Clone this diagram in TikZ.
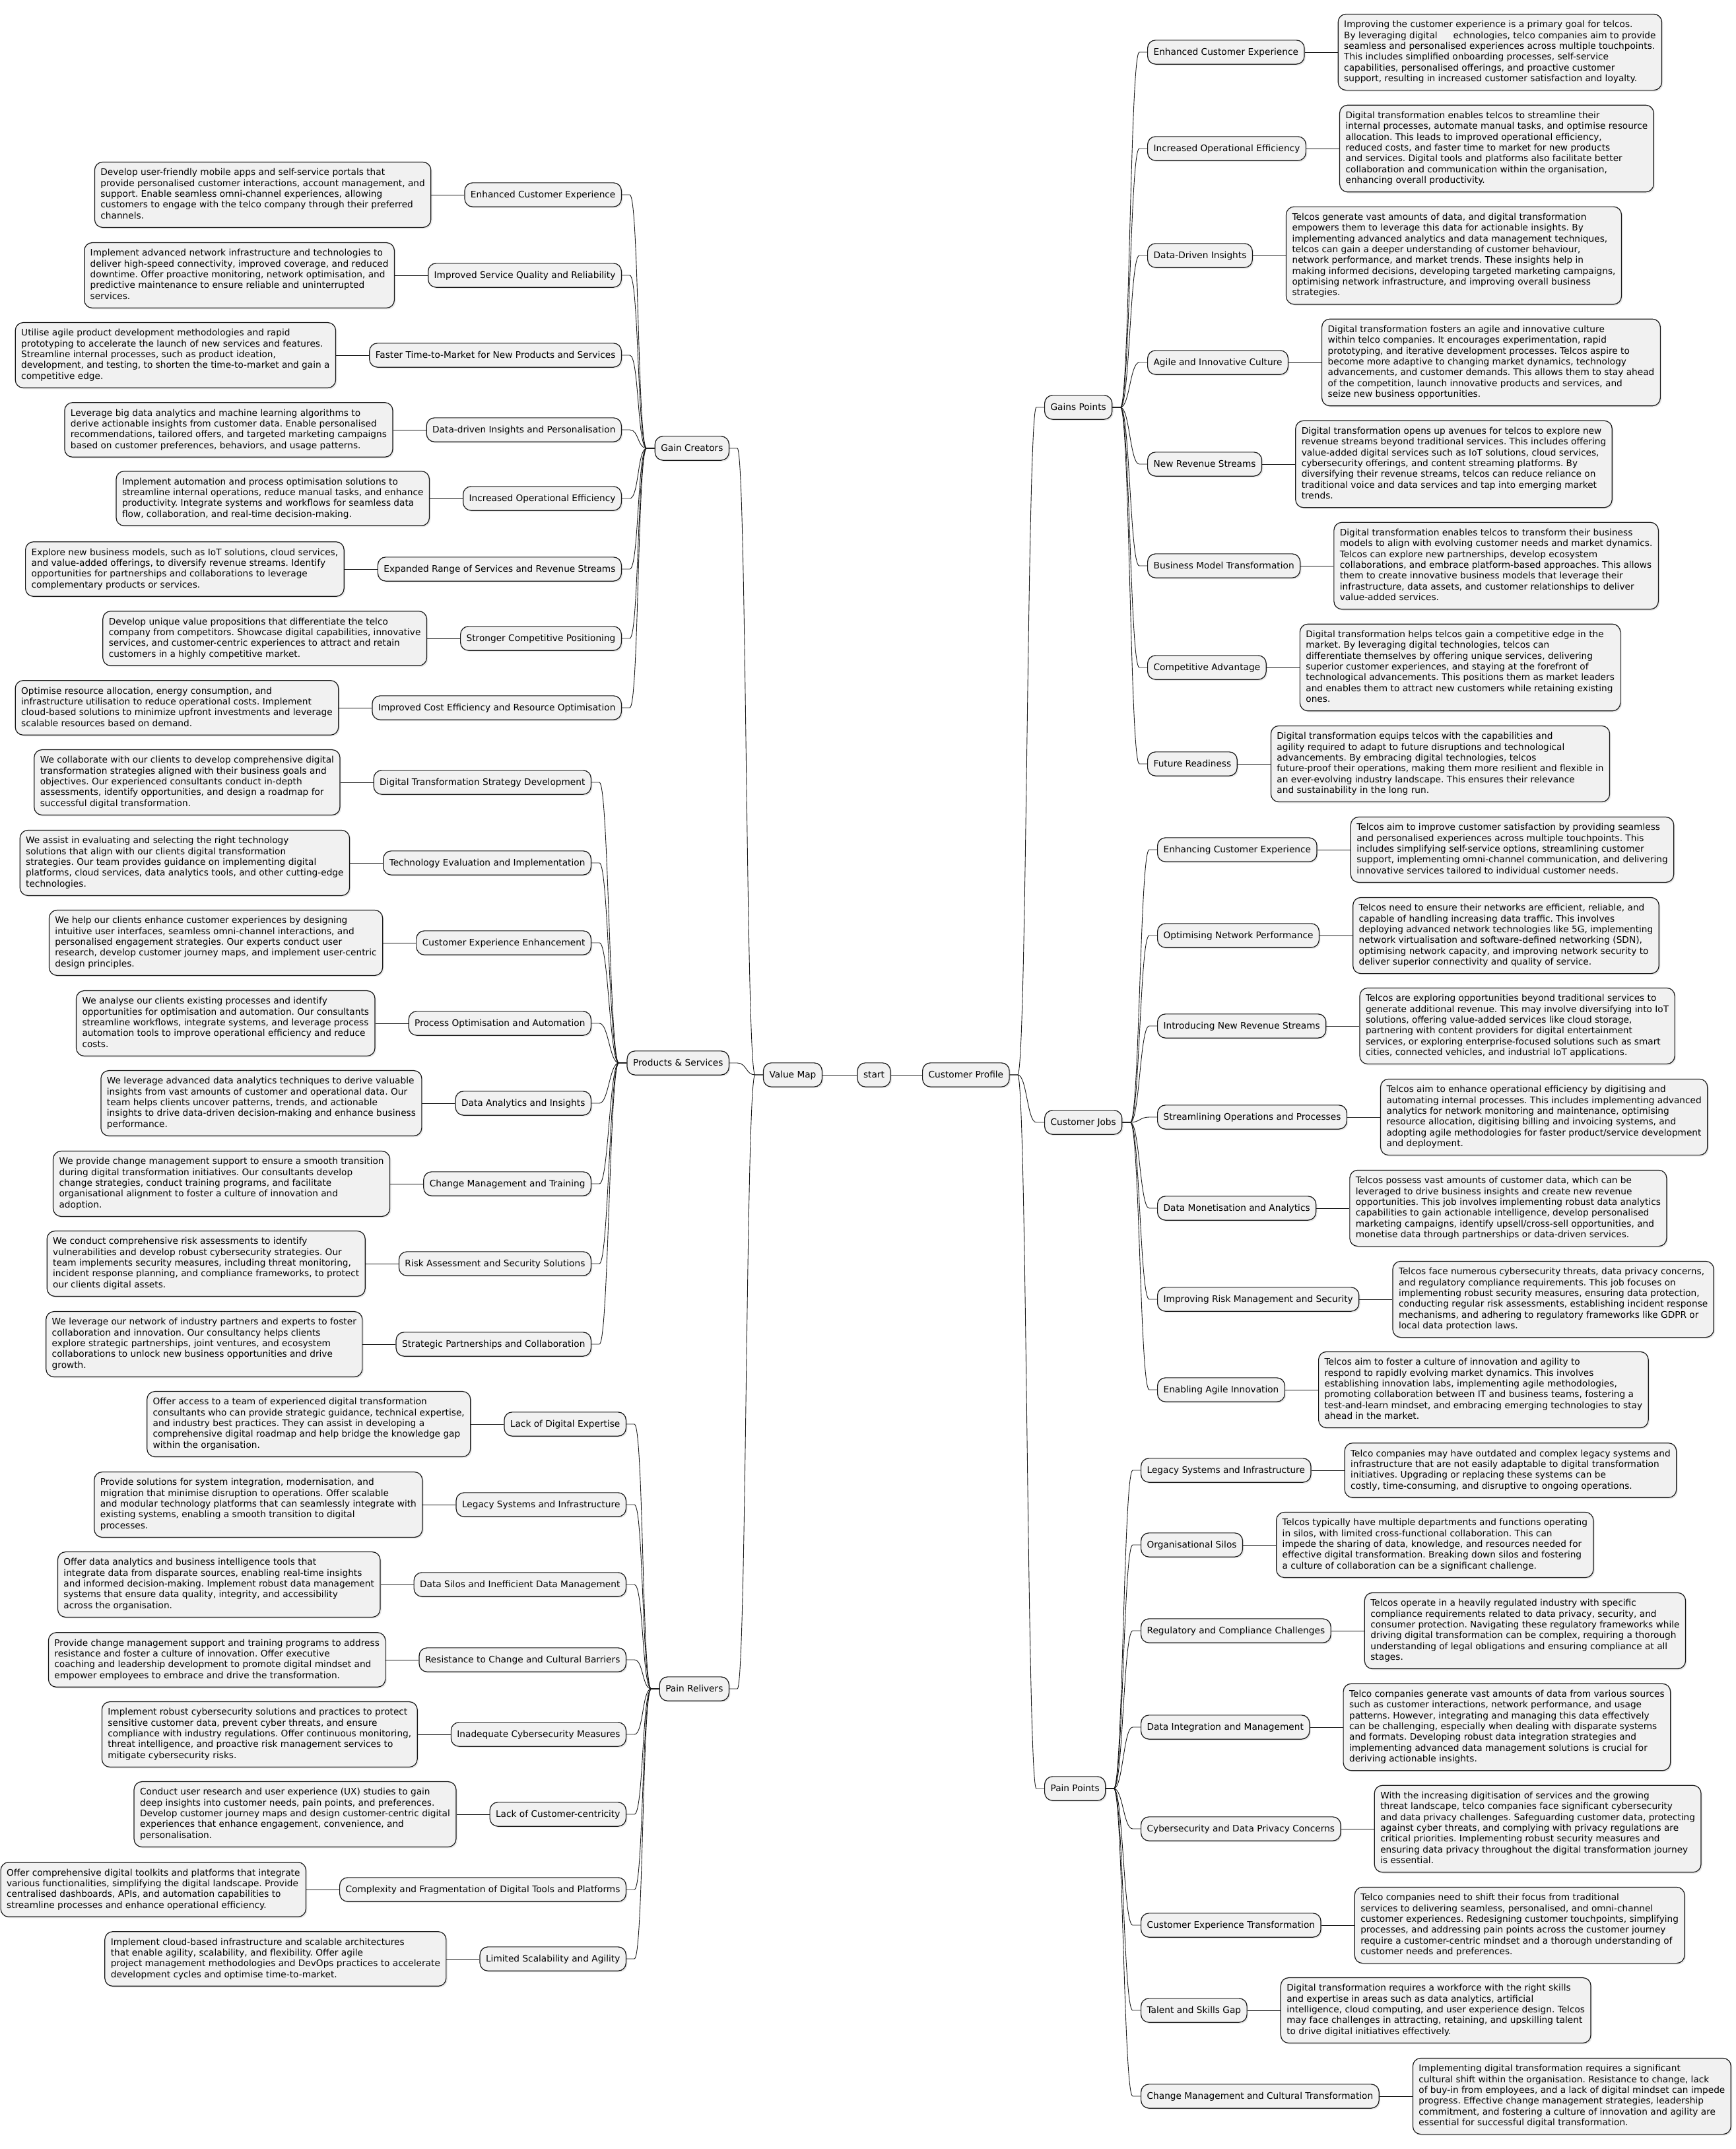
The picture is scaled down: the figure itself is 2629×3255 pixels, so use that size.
\documentclass[tikz,border=0pt]{standalone}
\usepackage{fontspec}
\setmainfont{DejaVu Sans}
\usepackage{tikz}
\usetikzlibrary{shadows}
\definecolor{boxfill}{HTML}{F1F1F1}
\definecolor{boxline}{HTML}{181818}
\frenchspacing
\newcommand{\linestrut}{\rule[-3.3pt]{0pt}{16.3pt}}
\tikzstyle{mapnode}=[draw=boxline, fill=boxfill, line width=1.2pt, rounded corners=12pt, inner xsep=9pt, inner ysep=10pt, font=\fontsize{13.7}{16.3}\selectfont, execute at begin node=\linestrut, execute at end node=\linestrut, drop shadow={opacity=0.18, shadow xshift=2pt, shadow yshift=-2pt}]
\tikzstyle{maptext}=[mapnode, align=left]
\tikzstyle{stem}=[draw=boxline, line width=1pt]
\tikzstyle{branchright}=[draw=boxline, line width=0.9pt, to path={(\tikztostart.east) -- ++(12pt,0) .. controls +(14pt,0) and +(-14pt,0) .. ([xshift=-12pt]\tikztotarget.west) -- (\tikztotarget.west)}]
\tikzstyle{branchleft}=[draw=boxline, line width=0.9pt, to path={(\tikztostart.west) -- ++(-12pt,0) .. controls +(-14pt,0) and +(14pt,0) .. ([xshift=12pt]\tikztotarget.east) -- (\tikztotarget.east)}]

\begin{document}
\begin{tikzpicture}[x=1pt, y=-1pt]
	\path[use as bounding box, fill=white] (0, 0) rectangle (2629, 3255);
	\begin{scope}
		\node (start) at (1324, 1628)[mapnode] {start};
		\node (cp) at (1397, 1628)[mapnode, anchor=west] {Customer Profile};
		\node (vm) at (1246, 1628)[mapnode, anchor=east] {Value Map};

		\node (gp) at (1582, 617)[mapnode, anchor=west] {Gains Points};
		\node (cj) at (1582, 1700)[mapnode, anchor=west] {Customer Jobs};
		\node (pp) at (1582, 2709)[mapnode, anchor=west] {Pain Points};

		\node (gc) at (1105, 679)[mapnode, anchor=east] {Gain Creators};
		\node (ps) at (1105, 1610)[mapnode, anchor=east] {Products \& Services};
		\node (pr) at (1105, 2558)[mapnode, anchor=east] {Pain Relivers};
	\end{scope}
	\begin{scope}
		\node (gp1) at (1738, 79)[mapnode, anchor=west] {Enhanced Customer Experience};
		\node (gp1t) at ([xshift=50pt]gp1.east)[maptext, anchor=west] {Improving the customer experience is a primary goal for telcos.\\By leveraging digital\hspace{24pt}echnologies, telco companies aim to provide\\seamless and personalised experiences across multiple touchpoints.\\This includes simplified onboarding processes, self-service\\capabilities, personalised offerings, and proactive customer\\support, resulting in increased customer satisfaction and loyalty.};
		\node (gp2) at (1738, 225)[mapnode, anchor=west] {Increased Operational Efficiency};
		\node (gp2t) at ([xshift=50pt]gp2.east)[maptext, anchor=west] {Digital transformation enables telcos to streamline their\\internal processes, automate manual tasks, and optimise resource\\allocation. This leads to improved operational efficiency,\\reduced costs, and faster time to market for new products\\and services. Digital tools and platforms also facilitate better\\collaboration and communication within the organisation,\\enhancing overall productivity.};
		\node (gp3) at (1738, 387)[mapnode, anchor=west] {Data-Driven Insights};
		\node (gp3t) at ([xshift=50pt]gp3.east)[maptext, anchor=west] {Telcos generate vast amounts of data, and digital transformation\\empowers them to leverage this data for actionable insights. By\\implementing advanced analytics and data management techniques,\\telcos can gain a deeper understanding of customer behaviour,\\network performance, and market trends. These insights help in\\making informed decisions, developing targeted marketing campaigns,\\optimising network infrastructure, and improving overall business\\strategies.};
		\node (gp4) at (1738, 549)[mapnode, anchor=west] {Agile and Innovative Culture};
		\node (gp4t) at ([xshift=50pt]gp4.east)[maptext, anchor=west] {Digital transformation fosters an agile and innovative culture\\within telco companies. It encourages experimentation, rapid\\prototyping, and iterative development processes. Telcos aspire to\\become more adaptive to changing market dynamics, technology\\advancements, and customer demands. This allows them to stay ahead\\of the competition, launch innovative products and services, and\\seize new business opportunities.};
		\node (gp5) at (1738, 703)[mapnode, anchor=west] {New Revenue Streams};
		\node (gp5t) at ([xshift=50pt]gp5.east)[maptext, anchor=west] {Digital transformation opens up avenues for telcos to explore new\\revenue streams beyond traditional services. This includes offering\\value-added digital services such as IoT solutions, cloud services,\\cybersecurity offerings, and content streaming platforms. By\\diversifying their revenue streams, telcos can reduce reliance on\\traditional voice and data services and tap into emerging market\\trends.};
		\node (gp6) at (1738, 857)[mapnode, anchor=west] {Business Model Transformation};
		\node (gp6t) at ([xshift=50pt]gp6.east)[maptext, anchor=west] {Digital transformation enables telcos to transform their business\\models to align with evolving customer needs and market dynamics.\\Telcos can explore new partnerships, develop ecosystem\\collaborations, and embrace platform-based approaches. This allows\\them to create innovative business models that leverage their\\infrastructure, data assets, and customer relationships to deliver\\value-added services.};
		\node (gp7) at (1738, 1011)[mapnode, anchor=west] {Competitive Advantage};
		\node (gp7t) at ([xshift=50pt]gp7.east)[maptext, anchor=west] {Digital transformation helps telcos gain a competitive edge in the\\market. By leveraging digital technologies, telcos can\\differentiate themselves by offering unique services, delivering\\superior customer experiences, and staying at the forefront of\\technological advancements. This positions them as market leaders\\and enables them to attract new customers while retaining existing\\ones.};
		\node (gp8) at (1738, 1157)[mapnode, anchor=west] {Future Readiness};
		\node (gp8t) at ([xshift=50pt]gp8.east)[maptext, anchor=west] {Digital transformation equips telcos with the capabilities and\\agility required to adapt to future disruptions and technological\\advancements. By embracing digital technologies, telcos\\future-proof their operations, making them more resilient and flexible in\\an ever-evolving industry landscape. This ensures their relevance\\and sustainability in the long run.};

		\node (cj1) at (1753, 1287)[mapnode, anchor=west] {Enhancing Customer Experience};
		\node (cj1t) at ([xshift=50pt]cj1.east)[maptext, anchor=west] {Telcos aim to improve customer satisfaction by providing seamless\\and personalised experiences across multiple touchpoints. This\\includes simplifying self-service options, streamlining customer\\support, implementing omni-channel communication, and delivering\\innovative services tailored to individual customer needs.};
		\node (cj2) at (1753, 1417)[mapnode, anchor=west] {Optimising Network Performance};
		\node (cj2t) at ([xshift=50pt]cj2.east)[maptext, anchor=west] {Telcos need to ensure their networks are efficient, reliable, and\\capable of handling increasing data traffic. This involves\\deploying advanced network technologies like 5G, implementing\\network virtualisation and software-defined networking (SDN),\\optimising network capacity, and improving network security to\\deliver superior connectivity and quality of service.};
		\node (cj3) at (1753, 1554)[mapnode, anchor=west] {Introducing New Revenue Streams};
		\node (cj3t) at ([xshift=50pt]cj3.east)[maptext, anchor=west] {Telcos are exploring opportunities beyond traditional services to\\generate additional revenue. This may involve diversifying into IoT\\solutions, offering value-added services like cloud storage,\\partnering with content providers for digital entertainment\\services, or exploring enterprise-focused solutions such as smart\\cities, connected vehicles, and industrial IoT applications.};
		\node (cj4) at (1753, 1692)[mapnode, anchor=west] {Streamlining Operations and Processes};
		\node (cj4t) at ([xshift=50pt]cj4.east)[maptext, anchor=west] {Telcos aim to enhance operational efficiency by digitising and\\automating internal processes. This includes implementing advanced\\analytics for network monitoring and maintenance, optimising\\resource allocation, digitising billing and invoicing systems, and\\adopting agile methodologies for faster product/service development\\and deployment.};
		\node (cj5) at (1753, 1830)[mapnode, anchor=west] {Data Monetisation and Analytics};
		\node (cj5t) at ([xshift=50pt]cj5.east)[maptext, anchor=west] {Telcos possess vast amounts of customer data, which can be\\leveraged to drive business insights and create new revenue\\opportunities. This job involves implementing robust data analytics\\capabilities to gain actionable intelligence, develop personalised\\marketing campaigns, identify upsell/cross-sell opportunities, and\\monetise data through partnerships or data-driven services.};
		\node (cj6) at (1753, 1968)[mapnode, anchor=west] {Improving Risk Management and Security};
		\node (cj6t) at ([xshift=50pt]cj6.east)[maptext, anchor=west] {Telcos face numerous cybersecurity threats, data privacy concerns,\\and regulatory compliance requirements. This job focuses on\\implementing robust security measures, ensuring data protection,\\conducting regular risk assessments, establishing incident response\\mechanisms, and adhering to regulatory frameworks like GDPR or\\local data protection laws.};
		\node (cj7) at (1753, 2105)[mapnode, anchor=west] {Enabling Agile Innovation};
		\node (cj7t) at ([xshift=50pt]cj7.east)[maptext, anchor=west] {Telcos aim to foster a culture of innovation and agility to\\respond to rapidly evolving market dynamics. This involves\\establishing innovation labs, implementing agile methodologies,\\promoting collaboration between IT and business teams, fostering a\\test-and-learn mindset, and embracing emerging technologies to stay\\ahead in the market.};

		\node (pp1) at (1728, 2227)[mapnode, anchor=west] {Legacy Systems and Infrastructure};
		\node (pp1t) at ([xshift=50pt]pp1.east)[maptext, anchor=west] {Telco companies may have outdated and complex legacy systems and\\infrastructure that are not easily adaptable to digital transformation\\initiatives. Upgrading or replacing these systems can be\\costly, time-consuming, and disruptive to ongoing operations.};
		\node (pp2) at (1728, 2340)[mapnode, anchor=west] {Organisational Silos};
		\node (pp2t) at ([xshift=50pt]pp2.east)[maptext, anchor=west] {Telcos typically have multiple departments and functions operating\\in silos, with limited cross-functional collaboration. This can\\impede the sharing of data, knowledge, and resources needed for\\effective digital transformation. Breaking down silos and fostering\\a culture of collaboration can be a significant challenge.};
		\node (pp3) at (1728, 2470)[mapnode, anchor=west] {Regulatory and Compliance Challenges};
		\node (pp3t) at ([xshift=50pt]pp3.east)[maptext, anchor=west] {Telcos operate in a heavily regulated industry with specific\\compliance requirements related to data privacy, security, and\\consumer protection. Navigating these regulatory frameworks while\\driving digital transformation can be complex, requiring a thorough\\understanding of legal obligations and ensuring compliance at all\\stages.};
		\node (pp4) at (1728, 2616)[mapnode, anchor=west] {Data Integration and Management};
		\node (pp4t) at ([xshift=50pt]pp4.east)[maptext, anchor=west] {Telco companies generate vast amounts of data from various sources\\such as customer interactions, network performance, and usage\\patterns. However, integrating and managing this data effectively\\can be challenging, especially when dealing with disparate systems\\and formats. Developing robust data integration strategies and\\implementing advanced data management solutions is crucial for\\deriving actionable insights.};
		\node (pp5) at (1728, 2770)[mapnode, anchor=west] {Cybersecurity and Data Privacy Concerns};
		\node (pp5t) at ([xshift=50pt]pp5.east)[maptext, anchor=west] {With the increasing digitisation of services and the growing\\threat landscape, telco companies face significant cybersecurity\\and data privacy challenges. Safeguarding customer data, protecting\\against cyber threats, and complying with privacy regulations are\\critical priorities. Implementing robust security measures and\\ensuring data privacy throughout the digital transformation journey\\is essential.};
		\node (pp6) at (1728, 2916)[mapnode, anchor=west] {Customer Experience Transformation};
		\node (pp6t) at ([xshift=50pt]pp6.east)[maptext, anchor=west] {Telco companies need to shift their focus from traditional\\services to delivering seamless, personalised, and omni-channel\\customer experiences. Redesigning customer touchpoints, simplifying\\processes, and addressing pain points across the customer journey\\require a customer-centric mindset and a thorough understanding of\\customer needs and preferences.};
		\node (pp7) at (1728, 3045)[mapnode, anchor=west] {Talent and Skills Gap};
		\node (pp7t) at ([xshift=50pt]pp7.east)[maptext, anchor=west] {Digital transformation requires a workforce with the right skills\\and expertise in areas such as data analytics, artificial\\intelligence, cloud computing, and user experience design. Telcos\\may face challenges in attracting, retaining, and upskilling talent\\to drive digital initiatives effectively.};
		\node (pp8) at (1728, 3175)[mapnode, anchor=west] {Change Management and Cultural Transformation};
		\node (pp8t) at ([xshift=50pt]pp8.east)[maptext, anchor=west] {Implementing digital transformation requires a significant\\cultural shift within the organisation. Resistance to change, lack\\of buy-in from employees, and a lack of digital mindset can impede\\progress. Effective change management strategies, leadership\\commitment, and fostering a culture of innovation and agility are\\essential for successful digital transformation.};
	\end{scope}
	\begin{scope}
		\node (gc1) at (942, 295)[mapnode, anchor=east] {Enhanced Customer Experience};
		\node (gc1t) at ([xshift=-50pt]gc1.west)[maptext, anchor=east] {Develop user-friendly mobile apps and self-service portals that\\provide personalised customer interactions, account management, and\\support. Enable seamless omni-channel experiences, allowing\\customers to engage with the telco company through their preferred\\channels.};
		\node (gc2) at (942, 417)[mapnode, anchor=east] {Improved Service Quality and Reliability};
		\node (gc2t) at ([xshift=-50pt]gc2.west)[maptext, anchor=east] {Implement advanced network infrastructure and technologies to\\deliver high-speed connectivity, improved coverage, and reduced\\downtime. Offer proactive monitoring, network optimisation, and\\predictive maintenance to ensure reliable and uninterrupted\\services.};
		\node (gc3) at (942, 538)[mapnode, anchor=east] {Faster Time-to-Market for New Products and Services};
		\node (gc3t) at ([xshift=-50pt]gc3.west)[maptext, anchor=east] {Utilise agile product development methodologies and rapid\\prototyping to accelerate the launch of new services and features.\\Streamline internal processes, such as product ideation,\\development, and testing, to shorten the time-to-market and gain a\\competitive edge.};
		\node (gc4) at (942, 651)[mapnode, anchor=east] {Data-driven Insights and Personalisation};
		\node (gc4t) at ([xshift=-50pt]gc4.west)[maptext, anchor=east] {Leverage big data analytics and machine learning algorithms to\\derive actionable insights from customer data. Enable personalised\\recommendations, tailored offers, and targeted marketing campaigns\\based on customer preferences, behaviors, and usage patterns.};
		\node (gc5) at (942, 755)[mapnode, anchor=east] {Increased Operational Efficiency};
		\node (gc5t) at ([xshift=-50pt]gc5.west)[maptext, anchor=east] {Implement automation and process optimisation solutions to\\streamline internal operations, reduce manual tasks, and enhance\\productivity. Integrate systems and workflows for seamless data\\flow, collaboration, and real-time decision-making.};
		\node (gc6) at (942, 862)[mapnode, anchor=east] {Expanded Range of Services and Revenue Streams};
		\node (gc6t) at ([xshift=-50pt]gc6.west)[maptext, anchor=east] {Explore new business models, such as IoT solutions, cloud services,\\and value-added offerings, to diversify revenue streams. Identify\\opportunities for partnerships and collaborations to leverage\\complementary products or services.};
		\node (gc7) at (942, 967)[mapnode, anchor=east] {Stronger Competitive Positioning};
		\node (gc7t) at ([xshift=-50pt]gc7.west)[maptext, anchor=east] {Develop unique value propositions that differentiate the telco\\company from competitors. Showcase digital capabilities, innovative\\services, and customer-centric experiences to attract and retain\\customers in a highly competitive market.};
		\node (gc8) at (942, 1072)[mapnode, anchor=east] {Improved Cost Efficiency and Resource Optimisation};
		\node (gc8t) at ([xshift=-50pt]gc8.west)[maptext, anchor=east] {Optimise resource allocation, energy consumption, and\\infrastructure utilisation to reduce operational costs. Implement\\cloud-based solutions to minimize upfront investments and leverage\\scalable resources based on demand.};

		\node (ps1) at (896, 1185)[mapnode, anchor=east] {Digital Transformation Strategy Development};
		\node (ps1t) at ([xshift=-50pt]ps1.west)[maptext, anchor=east] {We collaborate with our clients to develop comprehensive digital\\transformation strategies aligned with their business goals and\\objectives. Our experienced consultants conduct in-depth\\assessments, identify opportunities, and design a roadmap for\\successful digital transformation.};
		\node (ps2) at (896, 1307)[mapnode, anchor=east] {Technology Evaluation and Implementation};
		\node (ps2t) at ([xshift=-50pt]ps2.west)[maptext, anchor=east] {We assist in evaluating and selecting the right technology\\solutions that align with our clients digital transformation\\strategies. Our team provides guidance on implementing digital\\platforms, cloud services, data analytics tools, and other cutting-edge\\technologies.};
		\node (ps3) at (896, 1428)[mapnode, anchor=east] {Customer Experience Enhancement};
		\node (ps3t) at ([xshift=-50pt]ps3.west)[maptext, anchor=east] {We help our clients enhance customer experiences by designing\\intuitive user interfaces, seamless omni-channel interactions, and\\personalised engagement strategies. Our experts conduct user\\research, develop customer journey maps, and implement user-centric\\design principles.};
		\node (ps4) at (896, 1550)[mapnode, anchor=east] {Process Optimisation and Automation};
		\node (ps4t) at ([xshift=-50pt]ps4.west)[maptext, anchor=east] {We analyse our clients existing processes and identify\\opportunities for optimisation and automation. Our consultants\\streamline workflows, integrate systems, and leverage process\\automation tools to improve operational efficiency and reduce\\costs.};
		\node (ps5) at (896, 1671)[mapnode, anchor=east] {Data Analytics and Insights};
		\node (ps5t) at ([xshift=-50pt]ps5.west)[maptext, anchor=east] {We leverage advanced data analytics techniques to derive valuable\\insights from vast amounts of customer and operational data. Our\\team helps clients uncover patterns, trends, and actionable\\insights to drive data-driven decision-making and enhance business\\performance.};
		\node (ps6) at (896, 1793)[mapnode, anchor=east] {Change Management and Training};
		\node (ps6t) at ([xshift=-50pt]ps6.west)[maptext, anchor=east] {We provide change management support to ensure a smooth transition\\during digital transformation initiatives. Our consultants develop\\change strategies, conduct training programs, and facilitate\\organisational alignment to foster a culture of innovation and\\adoption.};
		\node (ps7) at (896, 1914)[mapnode, anchor=east] {Risk Assessment and Security Solutions};
		\node (ps7t) at ([xshift=-50pt]ps7.west)[maptext, anchor=east] {We conduct comprehensive risk assessments to identify\\vulnerabilities and develop robust cybersecurity strategies. Our\\team implements security measures, including threat monitoring,\\incident response planning, and compliance frameworks, to protect\\our clients digital assets.};
		\node (ps8) at (896, 2036)[mapnode, anchor=east] {Strategic Partnerships and Collaboration};
		\node (ps8t) at ([xshift=-50pt]ps8.west)[maptext, anchor=east] {We leverage our network of industry partners and experts to foster\\collaboration and innovation. Our consultancy helps clients\\explore strategic partnerships, joint ventures, and ecosystem\\collaborations to unlock new business opportunities and drive\\growth.};

		\node (pr1) at (949, 2157)[mapnode, anchor=east] {Lack of Digital Expertise};
		\node (pr1t) at ([xshift=-50pt]pr1.west)[maptext, anchor=east] {Offer access to a team of experienced digital transformation\\consultants who can provide strategic guidance, technical expertise,\\and industry best practices. They can assist in developing a\\comprehensive digital roadmap and help bridge the knowledge gap\\within the organisation.};
		\node (pr2) at (949, 2279)[mapnode, anchor=east] {Legacy Systems and Infrastructure};
		\node (pr2t) at ([xshift=-50pt]pr2.west)[maptext, anchor=east] {Provide solutions for system integration, modernisation, and\\migration that minimise disruption to operations. Offer scalable\\and modular technology platforms that can seamlessly integrate with\\existing systems, enabling a smooth transition to digital\\processes.};
		\node (pr3) at (949, 2400)[mapnode, anchor=east] {Data Silos and Inefficient Data Management};
		\node (pr3t) at ([xshift=-50pt]pr3.west)[maptext, anchor=east] {Offer data analytics and business intelligence tools that\\integrate data from disparate sources, enabling real-time insights\\and informed decision-making. Implement robust data management\\systems that ensure data quality, integrity, and accessibility\\across the organisation.};
		\node (pr4) at (949, 2514)[mapnode, anchor=east] {Resistance to Change and Cultural Barriers};
		\node (pr4t) at ([xshift=-50pt]pr4.west)[maptext, anchor=east] {Provide change management support and training programs to address\\resistance and foster a culture of innovation. Offer executive\\coaching and leadership development to promote digital mindset and\\empower employees to embrace and drive the transformation.};
		\node (pr5) at (949, 2627)[mapnode, anchor=east] {Inadequate Cybersecurity Measures};
		\node (pr5t) at ([xshift=-50pt]pr5.west)[maptext, anchor=east] {Implement robust cybersecurity solutions and practices to protect\\sensitive customer data, prevent cyber threats, and ensure\\compliance with industry regulations. Offer continuous monitoring,\\threat intelligence, and proactive risk management services to\\mitigate cybersecurity risks.};
		\node (pr6) at (949, 2748)[mapnode, anchor=east] {Lack of Customer-centricity};
		\node (pr6t) at ([xshift=-50pt]pr6.west)[maptext, anchor=east] {Conduct user research and user experience (UX) studies to gain\\deep insights into customer needs, pain points, and preferences.\\Develop customer journey maps and design customer-centric digital\\experiences that enhance engagement, convenience, and\\personalisation.};
		\node (pr7) at (949, 2862)[mapnode, anchor=east] {Complexity and Fragmentation of Digital Tools and Platforms};
		\node (pr7t) at ([xshift=-50pt]pr7.west)[maptext, anchor=east] {Offer comprehensive digital toolkits and platforms that integrate\\various functionalities, simplifying the digital landscape. Provide\\centralised dashboards, APIs, and automation capabilities to\\streamline processes and enhance operational efficiency.};
		\node (pr8) at (949, 2967)[mapnode, anchor=east] {Limited Scalability and Agility};
		\node (pr8t) at ([xshift=-50pt]pr8.west)[maptext, anchor=east] {Implement cloud-based infrastructure and scalable architectures\\that enable agility, scalability, and flexibility. Offer agile\\project management methodologies and DevOps practices to accelerate\\development cycles and optimise time-to-market.};
	\end{scope}
	\begin{scope}
		\path [stem] (start) edge (cp);
		\path [stem] (start) edge (vm);
		\path [branchright] (cp) edge (gp);
		\path [branchright] (cp) edge (cj);
		\path [branchright] (cp) edge (pp);
		\path [branchleft] (vm) edge (gc);
		\path [branchleft] (vm) edge (ps);
		\path [branchleft] (vm) edge (pr);
		\path [branchright] (gp) edge (gp1);
		\path [branchright] (gp) edge (gp2);
		\path [branchright] (gp) edge (gp3);
		\path [branchright] (gp) edge (gp4);
		\path [branchright] (gp) edge (gp5);
		\path [branchright] (gp) edge (gp6);
		\path [branchright] (gp) edge (gp7);
		\path [branchright] (gp) edge (gp8);
		\path [branchright] (cj) edge (cj1);
		\path [branchright] (cj) edge (cj2);
		\path [branchright] (cj) edge (cj3);
		\path [branchright] (cj) edge (cj4);
		\path [branchright] (cj) edge (cj5);
		\path [branchright] (cj) edge (cj6);
		\path [branchright] (cj) edge (cj7);
		\path [branchright] (pp) edge (pp1);
		\path [branchright] (pp) edge (pp2);
		\path [branchright] (pp) edge (pp3);
		\path [branchright] (pp) edge (pp4);
		\path [branchright] (pp) edge (pp5);
		\path [branchright] (pp) edge (pp6);
		\path [branchright] (pp) edge (pp7);
		\path [branchright] (pp) edge (pp8);
		\path [branchleft] (gc) edge (gc1);
		\path [branchleft] (gc) edge (gc2);
		\path [branchleft] (gc) edge (gc3);
		\path [branchleft] (gc) edge (gc4);
		\path [branchleft] (gc) edge (gc5);
		\path [branchleft] (gc) edge (gc6);
		\path [branchleft] (gc) edge (gc7);
		\path [branchleft] (gc) edge (gc8);
		\path [branchleft] (ps) edge (ps1);
		\path [branchleft] (ps) edge (ps2);
		\path [branchleft] (ps) edge (ps3);
		\path [branchleft] (ps) edge (ps4);
		\path [branchleft] (ps) edge (ps5);
		\path [branchleft] (ps) edge (ps6);
		\path [branchleft] (ps) edge (ps7);
		\path [branchleft] (ps) edge (ps8);
		\path [branchleft] (pr) edge (pr1);
		\path [branchleft] (pr) edge (pr2);
		\path [branchleft] (pr) edge (pr3);
		\path [branchleft] (pr) edge (pr4);
		\path [branchleft] (pr) edge (pr5);
		\path [branchleft] (pr) edge (pr6);
		\path [branchleft] (pr) edge (pr7);
		\path [branchleft] (pr) edge (pr8);
	\end{scope}
	\begin{scope}
		\path [stem] (gp1) edge (gp1t);
		\path [stem] (gp2) edge (gp2t);
		\path [stem] (gp3) edge (gp3t);
		\path [stem] (gp4) edge (gp4t);
		\path [stem] (gp5) edge (gp5t);
		\path [stem] (gp6) edge (gp6t);
		\path [stem] (gp7) edge (gp7t);
		\path [stem] (gp8) edge (gp8t);
		\path [stem] (cj1) edge (cj1t);
		\path [stem] (cj2) edge (cj2t);
		\path [stem] (cj3) edge (cj3t);
		\path [stem] (cj4) edge (cj4t);
		\path [stem] (cj5) edge (cj5t);
		\path [stem] (cj6) edge (cj6t);
		\path [stem] (cj7) edge (cj7t);
		\path [stem] (pp1) edge (pp1t);
		\path [stem] (pp2) edge (pp2t);
		\path [stem] (pp3) edge (pp3t);
		\path [stem] (pp4) edge (pp4t);
		\path [stem] (pp5) edge (pp5t);
		\path [stem] (pp6) edge (pp6t);
		\path [stem] (pp7) edge (pp7t);
		\path [stem] (pp8) edge (pp8t);
		\path [stem] (gc1) edge (gc1t);
		\path [stem] (gc2) edge (gc2t);
		\path [stem] (gc3) edge (gc3t);
		\path [stem] (gc4) edge (gc4t);
		\path [stem] (gc5) edge (gc5t);
		\path [stem] (gc6) edge (gc6t);
		\path [stem] (gc7) edge (gc7t);
		\path [stem] (gc8) edge (gc8t);
		\path [stem] (ps1) edge (ps1t);
		\path [stem] (ps2) edge (ps2t);
		\path [stem] (ps3) edge (ps3t);
		\path [stem] (ps4) edge (ps4t);
		\path [stem] (ps5) edge (ps5t);
		\path [stem] (ps6) edge (ps6t);
		\path [stem] (ps7) edge (ps7t);
		\path [stem] (ps8) edge (ps8t);
		\path [stem] (pr1) edge (pr1t);
		\path [stem] (pr2) edge (pr2t);
		\path [stem] (pr3) edge (pr3t);
		\path [stem] (pr4) edge (pr4t);
		\path [stem] (pr5) edge (pr5t);
		\path [stem] (pr6) edge (pr6t);
		\path [stem] (pr7) edge (pr7t);
		\path [stem] (pr8) edge (pr8t);
	\end{scope}
\end{tikzpicture}
\end{document}
